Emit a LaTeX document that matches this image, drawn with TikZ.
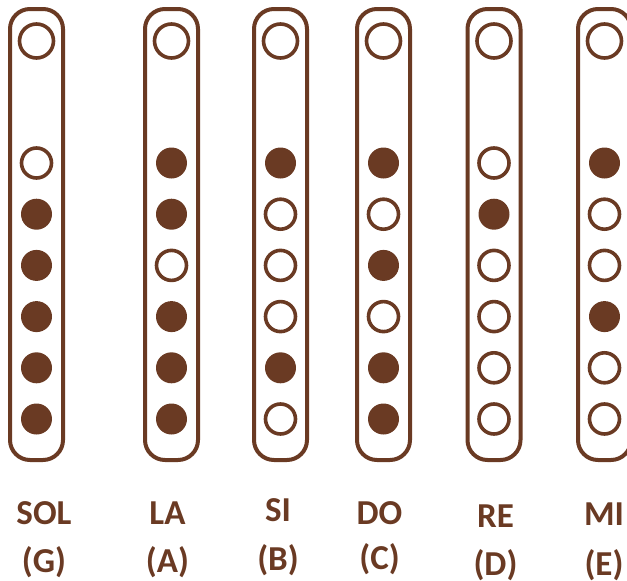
\documentclass[tikz,border=0pt]{standalone}
\usepackage{fontspec}
\setmainfont{Carlito}
\definecolor{flute}{HTML}{6A3A23}
\begin{document}
\begin{tikzpicture}[x=1pt,y=-1pt,
  tube/.style={draw=flute,line width=4pt,rounded corners=20pt},
  openhole/.style={circle,draw=flute,line width=3.6pt,minimum size=30pt,inner sep=0pt},
  tophole/.style={circle,draw=flute,line width=3.6pt,minimum size=34pt,inner sep=0pt},
  fullhole/.style={circle,fill=flute,minimum size=31pt,inner sep=0pt},
  lbl/.style={text=flute,font=\bfseries\fontsize{35}{37}\selectfont,inner sep=0pt,anchor=base}]
\useasboundingbox (0,0) rectangle (627,581);
\clip (0,0) rectangle (627,581);
% x centers, label x, label y offsets, pattern (1=filled)
\foreach \cx/\lx/\ya/\yb/\name/\letter/\pat [count=\k] in {
  36.5/44/524/572/SOL/G/{0,1,1,1,1,1},
  171.5/167.5/524/572/LA/A/{1,1,0,1,1,1},
  280.5/278/521/570/SI/B/{1,0,0,0,1,0},
  383.5/379.5/524/569/DO/C/{1,0,1,0,1,1},
  494/495.5/527/575/RE/D/{0,1,0,0,0,0},
  604.5/604/525/575/MI/E/{1,0,0,1,0,0}}{
  \draw[tube] (\cx-26.5,9) rectangle (\cx+26.5,460);
  \node[tophole] (t\k) at (\cx,41) {};
  \foreach \f [count=\j] in \pat {
    \ifnum\f=1
      \node[fullhole] (h\k-\j) at (\cx,{163+51.2*(\j-1)}) {};
    \else
      \node[openhole] (h\k-\j) at (\cx,{163+51.2*(\j-1)}) {};
    \fi
  }
  \node[lbl] (n\k) at (\lx,\ya) {\name};
  \node[lbl] (l\k) at (\lx,\yb) {(\letter)};
}
\end{tikzpicture}
\end{document}
